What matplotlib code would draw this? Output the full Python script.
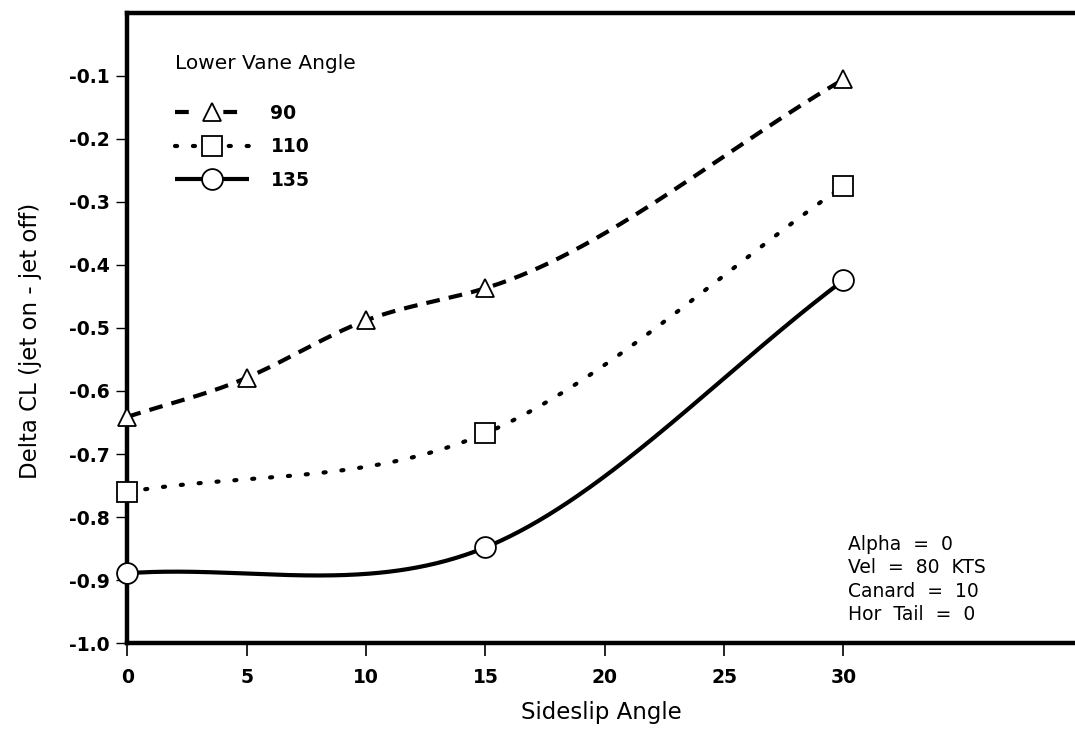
import numpy as np
import matplotlib
matplotlib.use("Agg")
import matplotlib.pyplot as plt
from matplotlib.lines import Line2D

plt.rcParams['font.family'] = ['DejaVu Sans']
plt.rcParams['axes.unicode_minus'] = False

# ---- data ----
x_90 = [0, 5, 10, 15, 30]
y_90 = [-0.641, -0.579, -0.488, -0.437, -0.106]
x_110 = [0, 15, 30]
y_110 = [-0.760, -0.667, -0.275]
x_135 = [0, 15, 30]
y_135 = [-0.889, -0.848, -0.4245]
series_labels = ['90', '110', '135']
legend_title = 'Lower Vane Angle'
x_ticks = [0, 5, 10, 15, 20, 25, 30]
y_ticks = [-1.0, -0.9, -0.8, -0.7, -0.6, -0.5, -0.4, -0.3, -0.2, -0.1]
note_lines = ['Alpha  =  0', 'Vel  =  80  KTS', 'Canard  =  10', 'Hor  Tail  =  0']


def clamped_spline(x, y, n=300):
    """Cubic spline through the points, end slopes = end chord slopes."""
    x = np.asarray(x, float)
    y = np.asarray(y, float)
    h = np.diff(x)
    d = np.diff(y) / h
    npts = len(x)
    A = np.zeros((npts, npts))
    b = np.zeros(npts)
    A[0, 0] = 1
    b[0] = d[0]
    A[-1, -1] = 1
    b[-1] = d[-1]
    for i in range(1, npts - 1):
        A[i, i - 1] = h[i]
        A[i, i] = 2 * (h[i - 1] + h[i])
        A[i, i + 1] = h[i - 1]
        b[i] = 3 * (h[i] * d[i - 1] + h[i - 1] * d[i])
    m = np.linalg.solve(A, b)
    xs = np.linspace(x[0], x[-1], n)
    idx = np.clip(np.searchsorted(x, xs, side='right') - 1, 0, npts - 2)
    t = (xs - x[idx]) / h[idx]
    h00 = 2 * t**3 - 3 * t**2 + 1
    h10 = t**3 - 2 * t**2 + t
    h01 = -2 * t**3 + 3 * t**2
    h11 = t**3 - t**2
    ys = (h00 * y[idx] + h10 * h[idx] * m[idx] + h01 * y[idx + 1]
          + h11 * h[idx] * m[idx + 1])
    return xs, ys


fig = plt.figure(figsize=(10.75, 7.36), dpi=100)
ax = fig.add_axes([0.1186, 0.126, 0.8814, 0.857])

LW = 3.0
styles = [
    dict(ls=(0, (3.3, 2.2)), hls=(0, (3.3, 8.3)), marker='^', ms=13.5,
         capstyle='butt'),
    dict(ls=(0, (0.5, 3.8)), hls=(0, (0.5, 3.8)), marker='s', ms=14.5,
         capstyle='round'),
    dict(ls='-', hls='-', marker='o', ms=15, capstyle='butt'),
]
handles = []
for (xs_, ys_), st in zip([(x_90, y_90), (x_110, y_110), (x_135, y_135)], styles):
    sx, sy = clamped_spline(xs_, ys_)
    ax.plot(sx, sy, color='black', lw=LW, linestyle=st['ls'],
            dash_capstyle=st['capstyle'], solid_capstyle='butt', zorder=2)
    ax.plot(xs_, ys_, linestyle='none', marker=st['marker'], ms=st['ms'],
            mfc='white', mec='black', mew=1.3, zorder=5, clip_on=False)
    handles.append(Line2D([], [], color='black', lw=LW, linestyle=st['hls'],
                          dash_capstyle=st['capstyle'], solid_capstyle='butt',
                          marker=st['marker'], ms=st['ms'], mfc='white',
                          mec='black', mew=1.3))

ax.set_xlim(0, 39.7)
ax.set_ylim(-1.0, 0.0)
ax.set_xticks(x_ticks)
ax.set_xticklabels([str(v) for v in x_ticks])
ax.set_yticks(y_ticks)
ax.set_yticklabels([f'{v:.1f}' for v in y_ticks])

for s in ['left', 'bottom', 'top']:
    ax.spines[s].set_linewidth(3.2)
ax.spines['right'].set_visible(False)

ax.tick_params(axis='y', direction='out', length=8, width=1.0, pad=5,
               labelsize=13.5)
ax.tick_params(axis='x', direction='out', length=9, width=1.2, pad=9,
               labelsize=13.5)
for lab in ax.get_xticklabels() + ax.get_yticklabels():
    lab.set_fontweight('bold')

ax.set_xlabel('Sideslip Angle', fontsize=16.5)
ax.set_ylabel('Delta CL (jet on - jet off)', fontsize=16.5)
ax.xaxis.set_label_coords(0.5, -0.0915)
ax.yaxis.set_label_coords(-0.090, 0.48)

leg = ax.legend(handles, series_labels, loc='upper left',
                bbox_to_anchor=(0.05, 0.934), frameon=False,
                title=legend_title, alignment='left',
                prop=dict(weight='bold', size=13.5),
                title_fontproperties=dict(size=14.5),
                handlelength=3.95, handletextpad=1.15, labelspacing=0.78,
                borderpad=0, borderaxespad=0)
leg._legend_box.sep = 22

ax.text(0.760, 0.172, '\n'.join(note_lines), transform=ax.transAxes,
        ha='left', va='top', fontsize=13.5, linespacing=1.3)

fig.savefig('out.png', dpi=100)
